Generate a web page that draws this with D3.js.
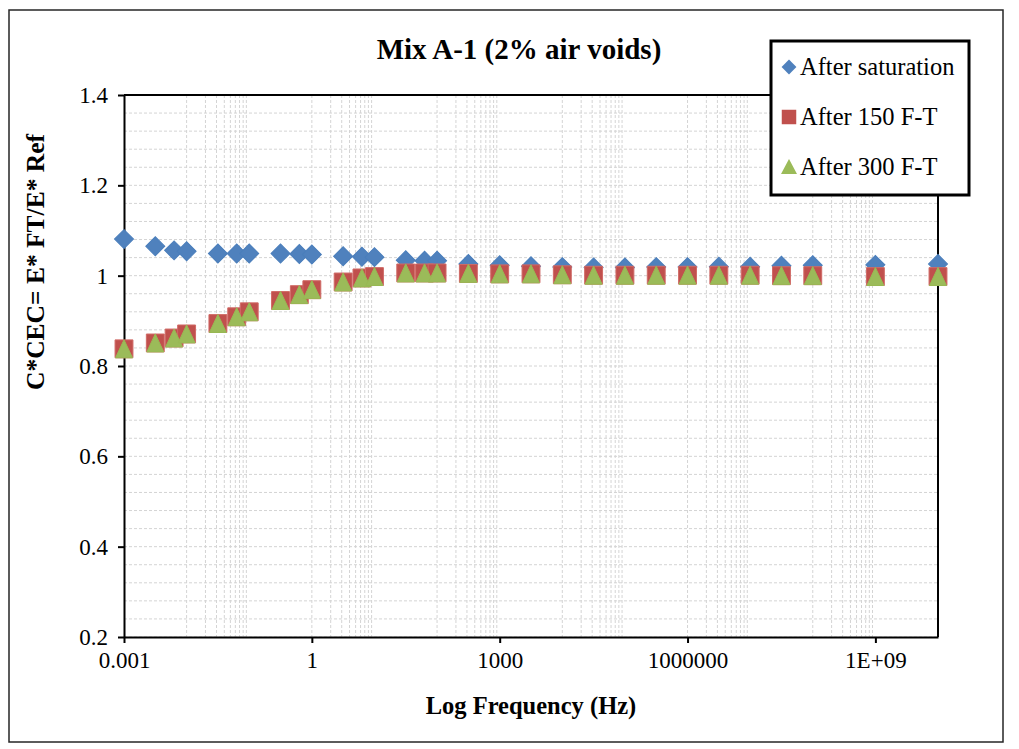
<!DOCTYPE html>
<html>
<head>
<meta charset="utf-8">
<script src="https://cdn.jsdelivr.net/npm/d3@7"></script>
<style>
  html, body { margin: 0; padding: 0; background: #ffffff; }
</style>
</head>
<body>
<script>
// frequencies (Hz) and C*CEC ratios
const frequency = [0.001, 0.00316, 0.00631, 0.01, 0.0316, 0.0631, 0.1, 0.316, 0.631, 1,
  3.16, 6.31, 10, 31.6, 63.1, 100, 316, 1000, 3162, 10000,
  31623, 100000, 316228, 1000000, 3162278, 10000000, 31622777, 100000000, 1000000000, 10000000000];
const afterSaturation = [1.081, 1.065, 1.056, 1.054, 1.049, 1.049, 1.049, 1.049, 1.048, 1.047,
  1.043, 1.042, 1.041, 1.034, 1.033, 1.033, 1.026, 1.023, 1.021, 1.019,
  1.018, 1.018, 1.019, 1.019, 1.020, 1.020, 1.022, 1.023, 1.024, 1.026];
const after150 = [0.838, 0.851, 0.862, 0.871, 0.894, 0.909, 0.920, 0.945, 0.958, 0.969,
  0.986, 0.995, 0.998, 1.006, 1.006, 1.006, 1.005, 1.004, 1.004, 1.002,
  1.001, 1.001, 1.001, 1.001, 1.001, 1.001, 1.000, 1.000, 0.998, 0.998];
const after300 = [0.837, 0.850, 0.861, 0.870, 0.893, 0.908, 0.919, 0.944, 0.957, 0.968,
  0.985, 0.994, 0.997, 1.005, 1.005, 1.005, 1.004, 1.003, 1.003, 1.001,
  1.000, 1.000, 1.000, 1.000, 1.000, 1.000, 0.999, 0.999, 0.997, 0.997];

const seriesNames = ['After saturation', 'After 150 F-T', 'After 300 F-T'];
const yTicks = [0.2, 0.4, 0.6, 0.8, 1, 1.2, 1.4];
const yTickLabels = ['0.2', '0.4', '0.6', '0.8', '1', '1.2', '1.4'];
const xTicks = [0.001, 1, 1000, 1000000, 1000000000];
const xTickLabels = ['0.001', '1', '1000', '1000000', '1E+09'];

const W = 1019, H = 749;
const font = '"Liberation Serif", "Times New Roman", serif';

const svg = d3.select('body').append('svg')
  .attr('width', W)
  .attr('height', H)
  .style('display', 'block');

svg.append('rect').attr('width', W).attr('height', H).attr('fill', '#ffffff');

// outer frame
svg.append('rect')
  .attr('x', 9).attr('y', 10).attr('width', 994).attr('height', 732)
  .attr('fill', 'none').attr('stroke', '#262626').attr('stroke-width', 1.5);

const x = d3.scaleLog().domain([0.001, 1e10]).range([124, 938]);
const y = d3.scaleLinear().domain([0.2, 1.4]).range([637, 95]);

// gridlines
const grid = svg.append('g')
  .attr('stroke', '#d4d4d4')
  .attr('stroke-width', 1)
  .attr('stroke-dasharray', '3,2');

const hLines = d3.range(0, 31).map(i => 0.2 + i * 0.04);
grid.selectAll('.h').data(hLines).join('line')
  .attr('x1', x(0.001)).attr('x2', x(1e10))
  .attr('y1', d => y(d)).attr('y2', d => y(d));

const vLines = [];
[-2, 0, 2, 4, 6, 8].forEach(e => {
  for (let k = 1; k <= 9; k++) vLines.push(k * Math.pow(10, e));
});
grid.selectAll('.v').data(vLines).join('line')
  .attr('x1', d => x(d)).attr('x2', d => x(d))
  .attr('y1', y(1.4)).attr('y2', y(0.2));

// plot border (top & right)
svg.append('path')
  .attr('d', `M${x(0.001)},${y(1.4)}H${x(1e10)}V${y(0.2)}`)
  .attr('fill', 'none').attr('stroke', '#000').attr('stroke-width', 2);

// axes
const yAxis = svg.append('g')
  .attr('transform', `translate(${x(0.001)},0)`)
  .call(d3.axisLeft(y).tickValues(yTicks)
    .tickFormat((d, i) => yTickLabels[i])
    .tickSize(6).tickSizeOuter(0).tickPadding(10));

const xAxis = svg.append('g')
  .attr('transform', `translate(0,${y(0.2)})`)
  .call(d3.axisBottom(x).tickValues(xTicks)
    .tickFormat((d, i) => xTickLabels[i])
    .tickSize(6).tickSizeOuter(0).tickPadding(9));

[yAxis, xAxis].forEach(a => {
  a.select('.domain').attr('stroke', '#000').attr('stroke-width', 2);
  a.selectAll('.tick line').attr('stroke', '#000').attr('stroke-width', 2);
  a.selectAll('.tick text')
    .attr('font-family', font)
    .attr('font-size', 23)
    .attr('fill', '#000');
});

// markers
const diamond = d3.symbol(d3.symbolSquare).size(180);
const square = d3.symbol(d3.symbolSquare).size(320);
const triangle = 'M0,-9.5L8.5,8.5L-8.5,8.5Z';

const series = [
  { name: seriesNames[0], values: afterSaturation, fill: '#4f81bd', stroke: '#4a7ebb', shape: 'diamond' },
  { name: seriesNames[1], values: after150, fill: '#c0504d', stroke: '#d06a66', shape: 'square' },
  { name: seriesNames[2], values: after300, fill: '#9bbb59', stroke: '#98b954', shape: 'triangle' }
];

function drawMarker(sel, shape) {
  if (shape === 'diamond') {
    sel.attr('d', diamond()).attr('transform', function () {
      return d3.select(this).attr('transform') + ' rotate(45)';
    });
  } else if (shape === 'square') {
    sel.attr('d', square());
  } else {
    sel.attr('d', triangle);
  }
}

series.forEach(s => {
  const pts = svg.append('g').selectAll('path')
    .data(frequency.map((f, i) => [f, s.values[i]]))
    .join('path')
    .attr('transform', d => `translate(${x(d[0])},${y(d[1])})`)
    .attr('fill', s.fill)
    .attr('stroke', s.stroke)
    .attr('stroke-width', 1);
  drawMarker(pts, s.shape);
});

// title
svg.append('text')
  .attr('x', 519).attr('y', 59)
  .attr('text-anchor', 'middle')
  .attr('font-family', font)
  .attr('font-size', 29)
  .attr('font-weight', 'bold')
  .text('Mix A-1 (2% air voids)');

// axis titles
svg.append('text')
  .attr('x', 531).attr('y', 714)
  .attr('text-anchor', 'middle')
  .attr('font-family', font)
  .attr('font-size', 24.5)
  .attr('font-weight', 'bold')
  .text('Log Frequency (Hz)');

svg.append('text')
  .attr('transform', 'translate(44,262) rotate(-90)')
  .attr('text-anchor', 'middle')
  .attr('font-family', font)
  .attr('font-size', 25.5)
  .attr('font-weight', 'bold')
  .text('C*CEC= E* FT/E* Ref');

// legend
const legend = svg.append('g');
legend.append('rect')
  .attr('x', 771).attr('y', 41).attr('width', 198).attr('height', 154)
  .attr('fill', '#ffffff').attr('stroke', '#000').attr('stroke-width', 3);

series.forEach((s, i) => {
  const ly = 67 + i * 50;
  const m = legend.append('path')
    .attr('transform', `translate(789,${ly})`)
    .attr('fill', s.fill)
    .attr('stroke', 'none');
  if (s.shape === 'diamond') m.attr('d', d3.symbol(d3.symbolSquare).size(110)()).attr('transform', `translate(789,${ly}) rotate(45)`);
  else if (s.shape === 'square') m.attr('d', d3.symbol(d3.symbolSquare).size(210)());
  else m.attr('d', 'M0,-8L8,7L-8,7Z');
  legend.append('text')
    .attr('x', 800).attr('y', ly + 8)
    .attr('font-family', font)
    .attr('font-size', 24.5)
    .text(s.name);
});
</script>
</body>
</html>
